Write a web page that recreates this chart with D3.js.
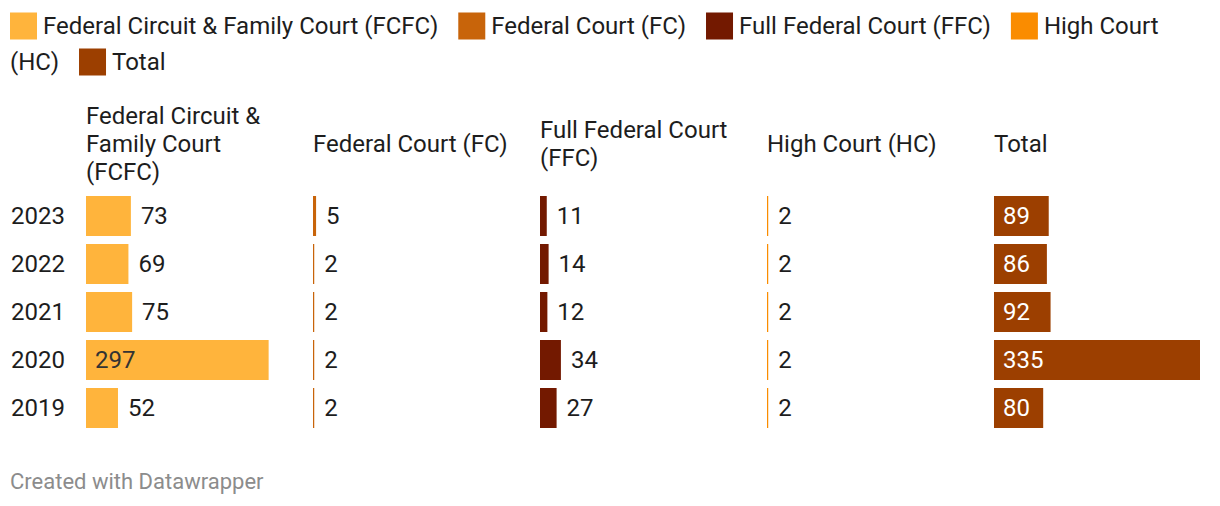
<!DOCTYPE html>
<html>
<head>
<meta charset="utf-8">
<script src="https://cdn.jsdelivr.net/npm/d3@7"></script>
<style>
  html, body { margin: 0; padding: 0; background: #fff; }
  svg { display: block; }
  text { font-family: Roboto, "Noto Sans", sans-serif; }
</style>
</head>
<body>
<svg id="chart" width="1220" height="506"></svg>
<script>
// ---- data ----
const years = ["2023", "2022", "2021", "2020", "2019"];
const seriesNames = [
  "Federal Circuit & Family Court (FCFC)",
  "Federal Court (FC)",
  "Full Federal Court (FFC)",
  "High Court (HC)",
  "Total"
];
const fcfcValues = [73, 69, 75, 297, 52];
const fcValues = [5, 2, 2, 2, 2];
const ffcValues = [11, 14, 12, 34, 27];
const hcValues = [2, 2, 2, 2, 2];
const totalValues = [89, 86, 92, 335, 80];
const seriesColors = ["#ffb43c", "#c8640a", "#731900", "#fa8c00", "#9c3f00"];
const footerText = "Created with Datawrapper";

const allSeries = [fcfcValues, fcValues, ffcValues, hcValues, totalValues];

// ---- layout ----
const W = 1220, H = 506;
const FONT = 24;
const svg = d3.select("#chart");

function measure(str, size) {
  const t = svg.append("text").attr("font-size", size).text(str);
  const w = t.node().getComputedTextLength();
  t.remove();
  return w;
}

// Legend (flowing, wrapping)
const legend = svg.append("g");
const legendLeft = 10, legendRight = 1210, legendY0 = 26, legendLine = 36;
const sw = 27, swGap = 6, itemGap = 20;
const spaceW = measure("a a", FONT) - measure("aa", FONT);
let lx = legendLeft, line = 0;
seriesNames.forEach((name, i) => {
  const words = name.split(" ");
  const firstW = measure(words[0], FONT);
  if (lx + sw + swGap + firstW > legendRight) { line++; lx = legendLeft; }
  const cy = legendY0 + line * legendLine;
  legend.append("rect").attr("x", lx).attr("y", cy - sw / 2).attr("width", sw).attr("height", sw)
    .attr("fill", seriesColors[i]);
  lx += sw + swGap;
  words.forEach((wd, j) => {
    const ww = measure(wd, FONT);
    if (lx + ww > legendRight) { line++; lx = legendLeft; }
    legend.append("text").attr("x", lx).attr("y", legendY0 + line * legendLine)
      .attr("dy", "0.35em").attr("font-size", FONT).attr("fill", "#1d1d1d").text(wd);
    lx += ww + spaceW;
  });
  lx += itemGap - spaceW;
});

// Scales
const colScale = d3.scaleBand().domain(seriesNames).range([86, 1200]).paddingInner(0.0925).paddingOuter(0);
const rowScale = d3.scaleBand().domain(years).range([196, 428]).paddingInner(1 / 6).paddingOuter(0);
const xScale = d3.scaleLinear().domain([0, d3.max(totalValues)]).range([0, colScale.bandwidth()]);

// Column headers (wrapped, vertically centred)
const headerCenterY = 144, headerLine = 28, headerMax = 200;
seriesNames.forEach((name) => {
  const words = name.split(" ");
  const lines = [];
  let cur = "";
  words.forEach(wd => {
    const test = cur ? cur + " " + wd : wd;
    if (cur && measure(test, FONT) > headerMax) { lines.push(cur); cur = wd; }
    else cur = test;
  });
  if (cur) lines.push(cur);
  const top = headerCenterY - (lines.length - 1) * headerLine / 2;
  const t = svg.append("text").attr("font-size", FONT).attr("fill", "#1d1d1d");
  lines.forEach((ln, k) => {
    t.append("tspan").attr("x", colScale(name)).attr("y", top + k * headerLine).attr("dy", "0.35em").text(ln);
  });
});

// Year labels
svg.append("g").selectAll("text").data(years).join("text")
  .attr("x", 11).attr("y", d => rowScale(d) + rowScale.bandwidth() / 2).attr("dy", "0.35em")
  .attr("font-size", FONT).attr("fill", "#1d1d1d").text(d => d);

// Bars + labels
function isDark(c) { return d3.hsl(c).l < 0.45; }
seriesNames.forEach((name, si) => {
  const g = svg.append("g").attr("transform", `translate(${colScale(name)},0)`);
  const vals = allSeries[si];
  const rows = years.map((y, k) => ({ year: y, v: vals[k] }));
  g.selectAll("rect").data(rows).join("rect")
    .attr("x", 0).attr("y", d => rowScale(d.year))
    .attr("width", d => xScale(d.v)).attr("height", rowScale.bandwidth())
    .attr("fill", seriesColors[si]);
  g.selectAll("text").data(rows).join("text")
    .each(function (d) {
      const bw = xScale(d.v);
      const label = String(d.v);
      const lw = measure(label, FONT);
      const inside = bw >= lw + 20;
      d3.select(this)
        .attr("x", inside ? 9 : bw + 10)
        .attr("y", rowScale(d.year) + rowScale.bandwidth() / 2)
        .attr("dy", "0.35em")
        .attr("font-size", FONT)
        .attr("fill", inside ? (isDark(seriesColors[si]) ? "#ffffff" : "#333333") : "#1d1d1d")
        .text(label);
    });
});

// Footer
svg.append("text").attr("x", 10).attr("y", 481).attr("dy", "0.35em")
  .attr("font-size", 22).attr("fill", "#8c8c8c").text(footerText);
</script>
</body>
</html>
